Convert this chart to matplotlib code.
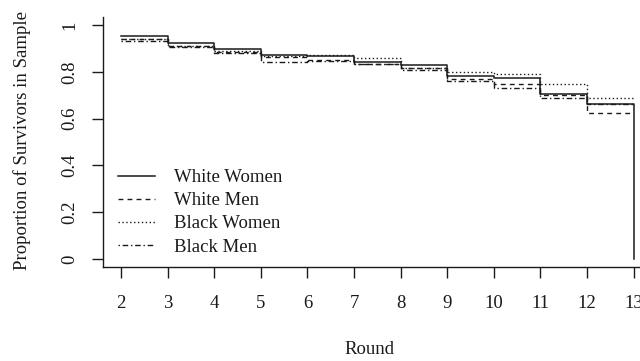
import matplotlib
matplotlib.use("Agg")
import matplotlib.pyplot as plt

rounds = [2, 3, 4, 5, 6, 7, 8, 9, 10, 11, 12, 13]
white_women = [0.953, 0.922, 0.897, 0.872, 0.868, 0.842, 0.830, 0.782, 0.772, 0.705, 0.661, 0.0]
white_men   = [0.940, 0.910, 0.886, 0.865, 0.852, 0.835, 0.815, 0.770, 0.749, 0.700, 0.625, 0.625]
black_women = [0.940, 0.910, 0.888, 0.868, 0.870, 0.860, 0.815, 0.798, 0.790, 0.748, 0.688, 0.688]
black_men   = [0.933, 0.905, 0.880, 0.843, 0.848, 0.832, 0.808, 0.762, 0.732, 0.688, 0.661, 0.661]
series_names = ["White Women", "White Men", "Black Women", "Black Men"]
yticks = [0, 0.2, 0.4, 0.6, 0.8, 1]
ytick_labels = ["0", "0.2", "0.4", "0.6", "0.8", "1"]

plt.rcParams['font.family'] = ['Liberation Serif', 'DejaVu Serif']
W, H = 640, 361
fig = plt.figure(figsize=(6.4, 3.61), dpi=100)
ax = fig.add_axes([103 / W, 1 - 267 / H, (650 - 103) / W, (267 - 17) / H])

col = '#1a1a1a'
styles = [
    dict(linestyle='-', lw=1.1, color=col),
    dict(linestyle=(0, (3.5, 3.0)), lw=1.0, color=col),
    dict(linestyle=(0, (1.0, 1.8)), lw=1.0, color=col),
    dict(linestyle=(0, (1.0, 2.0, 4.0, 2.0)), lw=1.0, color=col),
]
data = [white_women, white_men, black_women, black_men]
for name, ys, st in zip(series_names, data, styles):
    ax.step(rounds, ys, where='post', label=name, **st)

ax.set_xlim(1.615, 13.35)
ax.set_ylim(-0.034, 1.034)
ax.set_xticks(rounds)
ax.set_xticklabels([str(r) for r in rounds])
ax.set_yticks(yticks)
ax.set_yticklabels(ytick_labels, rotation=90, va='center')
for s in ['top', 'right']:
    ax.spines[s].set_visible(False)
for s in ['left', 'bottom']:
    ax.spines[s].set_color(col)
    ax.spines[s].set_linewidth(1.0)
ax.tick_params(axis='x', direction='out', length=8, width=1.0, pad=12, labelsize=13.5, colors=col)
ax.tick_params(axis='y', direction='out', length=8, width=1.0, pad=10, labelsize=13.5, colors=col)

leg = ax.legend(loc='lower left', bbox_to_anchor=((110 - 103) / (650 - 103), (267 - 263) / (267 - 17)),
                frameon=False, fontsize=13.5, handlelength=2.0, handletextpad=1.0,
                labelspacing=0.32, borderaxespad=0)
for t in leg.get_texts():
    t.set_color(col)

fig.text(369 / W, 1 - 350 / H, "Round", ha='center', va='center', fontsize=13.5, color=col)
fig.text(22 / W, 1 - 140 / H, "Proportion of Survivors in Sample", ha='center', va='center',
         rotation=90, fontsize=13.5, color=col)

fig.savefig("out.png", dpi=100)
